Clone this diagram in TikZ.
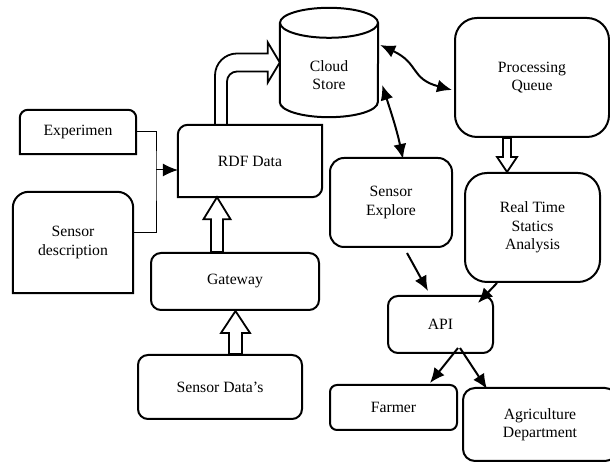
\documentclass[tikz,border=0pt]{standalone}
\usepackage{fontspec}
\setmainfont{Liberation Serif}
\usetikzlibrary{arrows.meta,calc}

% hollow block arrow, straight up or down:
% #1 tail anchor, #2 tip anchor, #3 x offset of the tip, #4 half shaft, #5 half head,
% #6 head length (negative when the arrow points down)
\newcommand{\hollowup}[6]{%
  \draw[hollow] ($(#2 |- #1)+(#3-#4,0)$) -- ($(#2)+({#3-#4},{-(#6)})$) -- ($(#2)+({#3-#5},{-(#6)})$)
    -- ($(#2)+(#3,0)$) -- ($(#2)+({#3+#5},{-(#6)})$) -- ($(#2)+({#3+#4},{-(#6)})$)
    -- ($(#2 |- #1)+(#3+#4,0)$) -- cycle;}

\begin{document}
\begin{tikzpicture}[
    x=1pt, y=1pt,
    font=\fontsize{15.7}{18.5}\selectfont,
    box/.style={draw, line width=2pt, rounded corners=10pt, align=center, inner sep=0pt},
    plain/.style={align=center, inner sep=0pt},
    edge/.style={line width=2pt},
    hollow/.style={draw, line width=1.8pt, fill=white},
    flow/.style={-{Latex[length=15pt,width=13pt]}, line width=2pt},
    both/.style={{Latex[length=15pt,width=13pt]}-{Latex[length=15pt,width=13pt]}, line width=2pt}
]
\useasboundingbox (0,0) rectangle (610,462);

% inputs on the left, rounded on top only
\node[plain, minimum width=116pt, minimum height=44pt] (exp) at (78,330) {Experimen};
\draw[edge] (exp.south west) -- ([yshift=-8pt]exp.north west) arc[start angle=180, end angle=90, radius=8pt]
  -- ([xshift=-8pt]exp.north east) arc[start angle=90, end angle=0, radius=8pt] -- (exp.south east) -- cycle;
\node[plain, minimum width=120pt, minimum height=101pt] (sdesc) at (73,219.5) {Sensor\\description};
\draw[edge] (sdesc.south west) -- ([yshift=-16pt]sdesc.north west) arc[start angle=180, end angle=90, radius=16pt]
  -- ([xshift=-16pt]sdesc.north east) arc[start angle=90, end angle=0, radius=16pt] -- (sdesc.south east) -- cycle;

% rounded on the diagonal
\node[plain, minimum width=144pt, minimum height=72pt] (rdf) at (250,301) {RDF Data};
\draw[edge] (rdf.south west) -- ([yshift=-10pt]rdf.north west) arc[start angle=180, end angle=90, radius=10pt]
  -- (rdf.north east) -- ([yshift=10pt]rdf.south east) arc[start angle=0, end angle=-90, radius=10pt] -- cycle;

\node[box, minimum width=168pt, minimum height=57pt] (gw) at (235,180.5) {Gateway};
\node[box, minimum width=164pt, minimum height=64pt] (sdata) at (220,75) {Sensor Data’s};

% cloud store cylinder
\node[plain, minimum width=98pt, minimum height=79pt] (cloud) at (329,399.5) {};
\draw[edge] (cloud.north west) -- (cloud.south west)
  arc[start angle=180, end angle=360, x radius=49pt, y radius=15pt] -- (cloud.north east);
\draw[edge] (cloud.north) ellipse [x radius=49pt, y radius=15pt];
\node[plain] (cloudtxt) at ([yshift=-12.5pt]cloud.center) {Cloud\\Store};

% right hand side
\node[box, rounded corners=14pt, minimum width=122pt, minimum height=89pt] (sexp) at (391,259.5) {Sensor\\Explore};
\node[box, rounded corners=22pt, minimum width=154pt, minimum height=119pt] (queue) at (532,384.5) {Processing\\Queue};
\node[box, rounded corners=22pt, minimum width=135pt, minimum height=109pt] (rta) at (532.5,234.5) {Real Time\\Statics\\Analysis};
\node[box, minimum width=105pt, minimum height=57pt] (api) at (440.5,137.5) {API};
\node[box, rounded corners=7pt, minimum width=127pt, minimum height=45pt] (farmer) at (393.5,54.5) {Farmer};
\node[box, rounded corners=12pt, minimum width=154pt, minimum height=73pt] (agri) at (540,37.5) {Agriculture\\Department};

% bracket joining the two inputs
\coordinate (brk) at (156,292);
\draw[line width=1pt] (exp.east) -| (brk) |- ([yshift=9.5pt]sdesc.east);
\draw[-{Latex[length=15pt,width=13pt]}, line width=1pt] (brk) -- (brk -| rdf.west);

% block arrows
\hollowup{gw.north}{rdf.south}{-33}{6}{13.5}{22}
\hollowup{sdata.north}{gw.south}{0.5}{6.5}{14.5}{22}
\hollowup{queue.south}{rta.north}{-25.5}{4}{10}{-15}
\draw[hollow] ([xshift=-35pt]rdf.north) -- (215,386.5) arc[start angle=180, end angle=90, radius=22pt]
  -- ($(cloud.west)+(-12,9)$) -- ($(cloud.west)+(-12,20)$) -- (cloud.west)
  -- ($(cloud.west)+(-12,-20)$) -- ($(cloud.west)+(-12,-9)$) -- (237,390.5)
  arc[start angle=90, end angle=180, radius=10pt] -- ([xshift=-23pt]rdf.north) -- cycle;

% data flow
\draw[both] ([shift={(2,17.5)}]cloud.east) to[out=-25, in=165, looseness=1.3] ([shift={(-2,-12.5)}]queue.west);
\draw[both] ([shift={(4,-22.5)}]cloud.east) to[out=-72, in=102] ([shift={(12,-2)}]sexp.north);
\draw[flow] ([shift={(16,-5)}]sexp.south) -- ([shift={(-12.5,4)}]api.north);
\draw[flow] ([xshift=-35.5pt]rta.south) -- ([shift={(37.5,-8)}]api.north);
\draw[flow] ([shift={(17.5,6)}]api.south) -- ([shift={(36.5,1)}]farmer.north);
\draw[flow] ([shift={(19.5,6)}]api.south) -- ([shift={(-53,-2)}]agri.north);
\end{tikzpicture}
\end{document}
